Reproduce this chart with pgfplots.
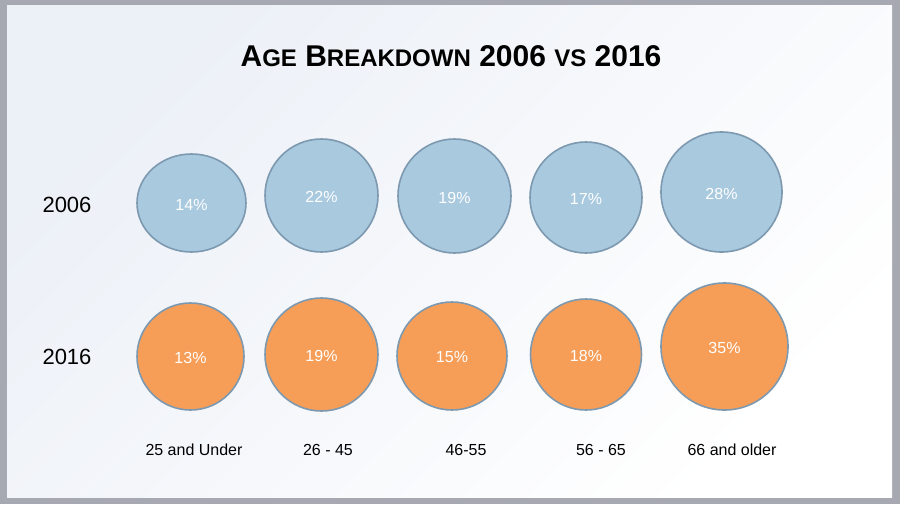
\documentclass[border=0pt]{standalone}
\usepackage{pgfplots}
\pgfplotsset{compat=1.18}
\usepackage{pgfplotstable}
\usepackage{fontspec}
\setmainfont{Liberation Sans}

\definecolor{framegray}{RGB}{166,169,178}
\definecolor{slidebg}{RGB}{236,240,247}
\definecolor{blue06}{RGB}{169,201,223}
\definecolor{orange16}{RGB}{246,158,88}
\definecolor{bubedge}{RGB}{125,153,176}

% ellipse marker, radii taken from the table (1 unit = 1pt)
\pgfdeclareplotmark{ell}{%
  \pgfpathellipse{\pgfpointorigin}{\pgfqpoint{\bubrx pt}{0pt}}{\pgfqpoint{0pt}{\bubry pt}}%
  \pgfusepathqfillstroke}

% x, y = bubble centre (pixels from top left), rx, ry = radii, pct = share
\pgfplotstableread{
x     y     rx    ry    pct
191.5 203   54.5  49    14
321.5 195.5 56.5  56.5  22
454.5 196   56.5  57    19
586   197.5 56    55.5  17
721.5 192   60.5  60    28
}\yearA

\pgfplotstableread{
x     y     rx    ry    pct
190.5 356.5 53.5  53.5  13
321.5 354.5 56.5  56.5  19
452   356   55    54    15
586   354.5 55.5  55.5  18
724.5 346.5 63.5  63.5  35
}\yearB

\newcommand{\SM}[1]{{\fontsize{24}{24}\selectfont #1}}
\tikzset{catlab/.style={font=\fontsize{16}{16}\selectfont}}

\begin{document}
\begin{tikzpicture}
\begin{axis}[
    x=1pt, y=1pt, y dir=reverse,
    scale only axis,
    xmin=0, xmax=900, ymin=0, ymax=504,
    hide axis, clip=false,
    /pgf/number format/assume math mode=true,
    bubble/.style={
        scatter, only marks, mark=ell, line width=1.6pt,
        visualization depends on={\thisrow{rx}\as\bubrx},
        visualization depends on={\thisrow{ry}\as\bubry},
        point meta=\thisrow{pct},
    },
    pctlab/.style={
        only marks, mark=*, mark size=0pt, draw=none,
        point meta=\thisrow{pct},
        nodes near coords={\pgfmathprintnumber{\pgfplotspointmeta}\%},
        nodes near coords align={center},
        every node near coord/.append style={text=white, anchor=center,
            yshift=-1.5pt, font=\fontsize{16}{16}\selectfont},
    },
]
\fill[framegray] (axis cs:0,0) rectangle (axis cs:900,504);
\shade[shading=axis, top color=slidebg, middle color=white, bottom color=white,
    shading angle=45]
    (axis cs:7,5) rectangle (axis cs:892,497);

\addplot[bubble, scatter/use mapped color={draw=bubedge, fill=blue06}]
    table[x=x, y=y] {\yearA};
\addplot[bubble, scatter/use mapped color={draw=bubedge, fill=orange16}]
    table[x=x, y=y] {\yearB};
\addplot[pctlab] table[x=x, y=y] {\yearA};
\addplot[pctlab] table[x=x, y=y] {\yearB};

\node[font=\bfseries\fontsize{30}{30}\selectfont] at (axis cs:451,56)
    {A\SM{GE} B\SM{REAKDOWN} 2006 \SM{VS} 2016};

\node[font=\fontsize{22}{22}\selectfont] at (axis cs:67,205) {2006};
\node[font=\fontsize{22}{22}\selectfont] at (axis cs:67,357) {2016};

\node[catlab] at (axis cs:194,450) {25 and Under};
\node[catlab] at (axis cs:328,450) {26 - 45};
\node[catlab] at (axis cs:466,450) {46-55};
\node[catlab] at (axis cs:601,450) {56 - 65};
\node[catlab] at (axis cs:732,450) {66 and older};
\end{axis}
\end{tikzpicture}
\end{document}
